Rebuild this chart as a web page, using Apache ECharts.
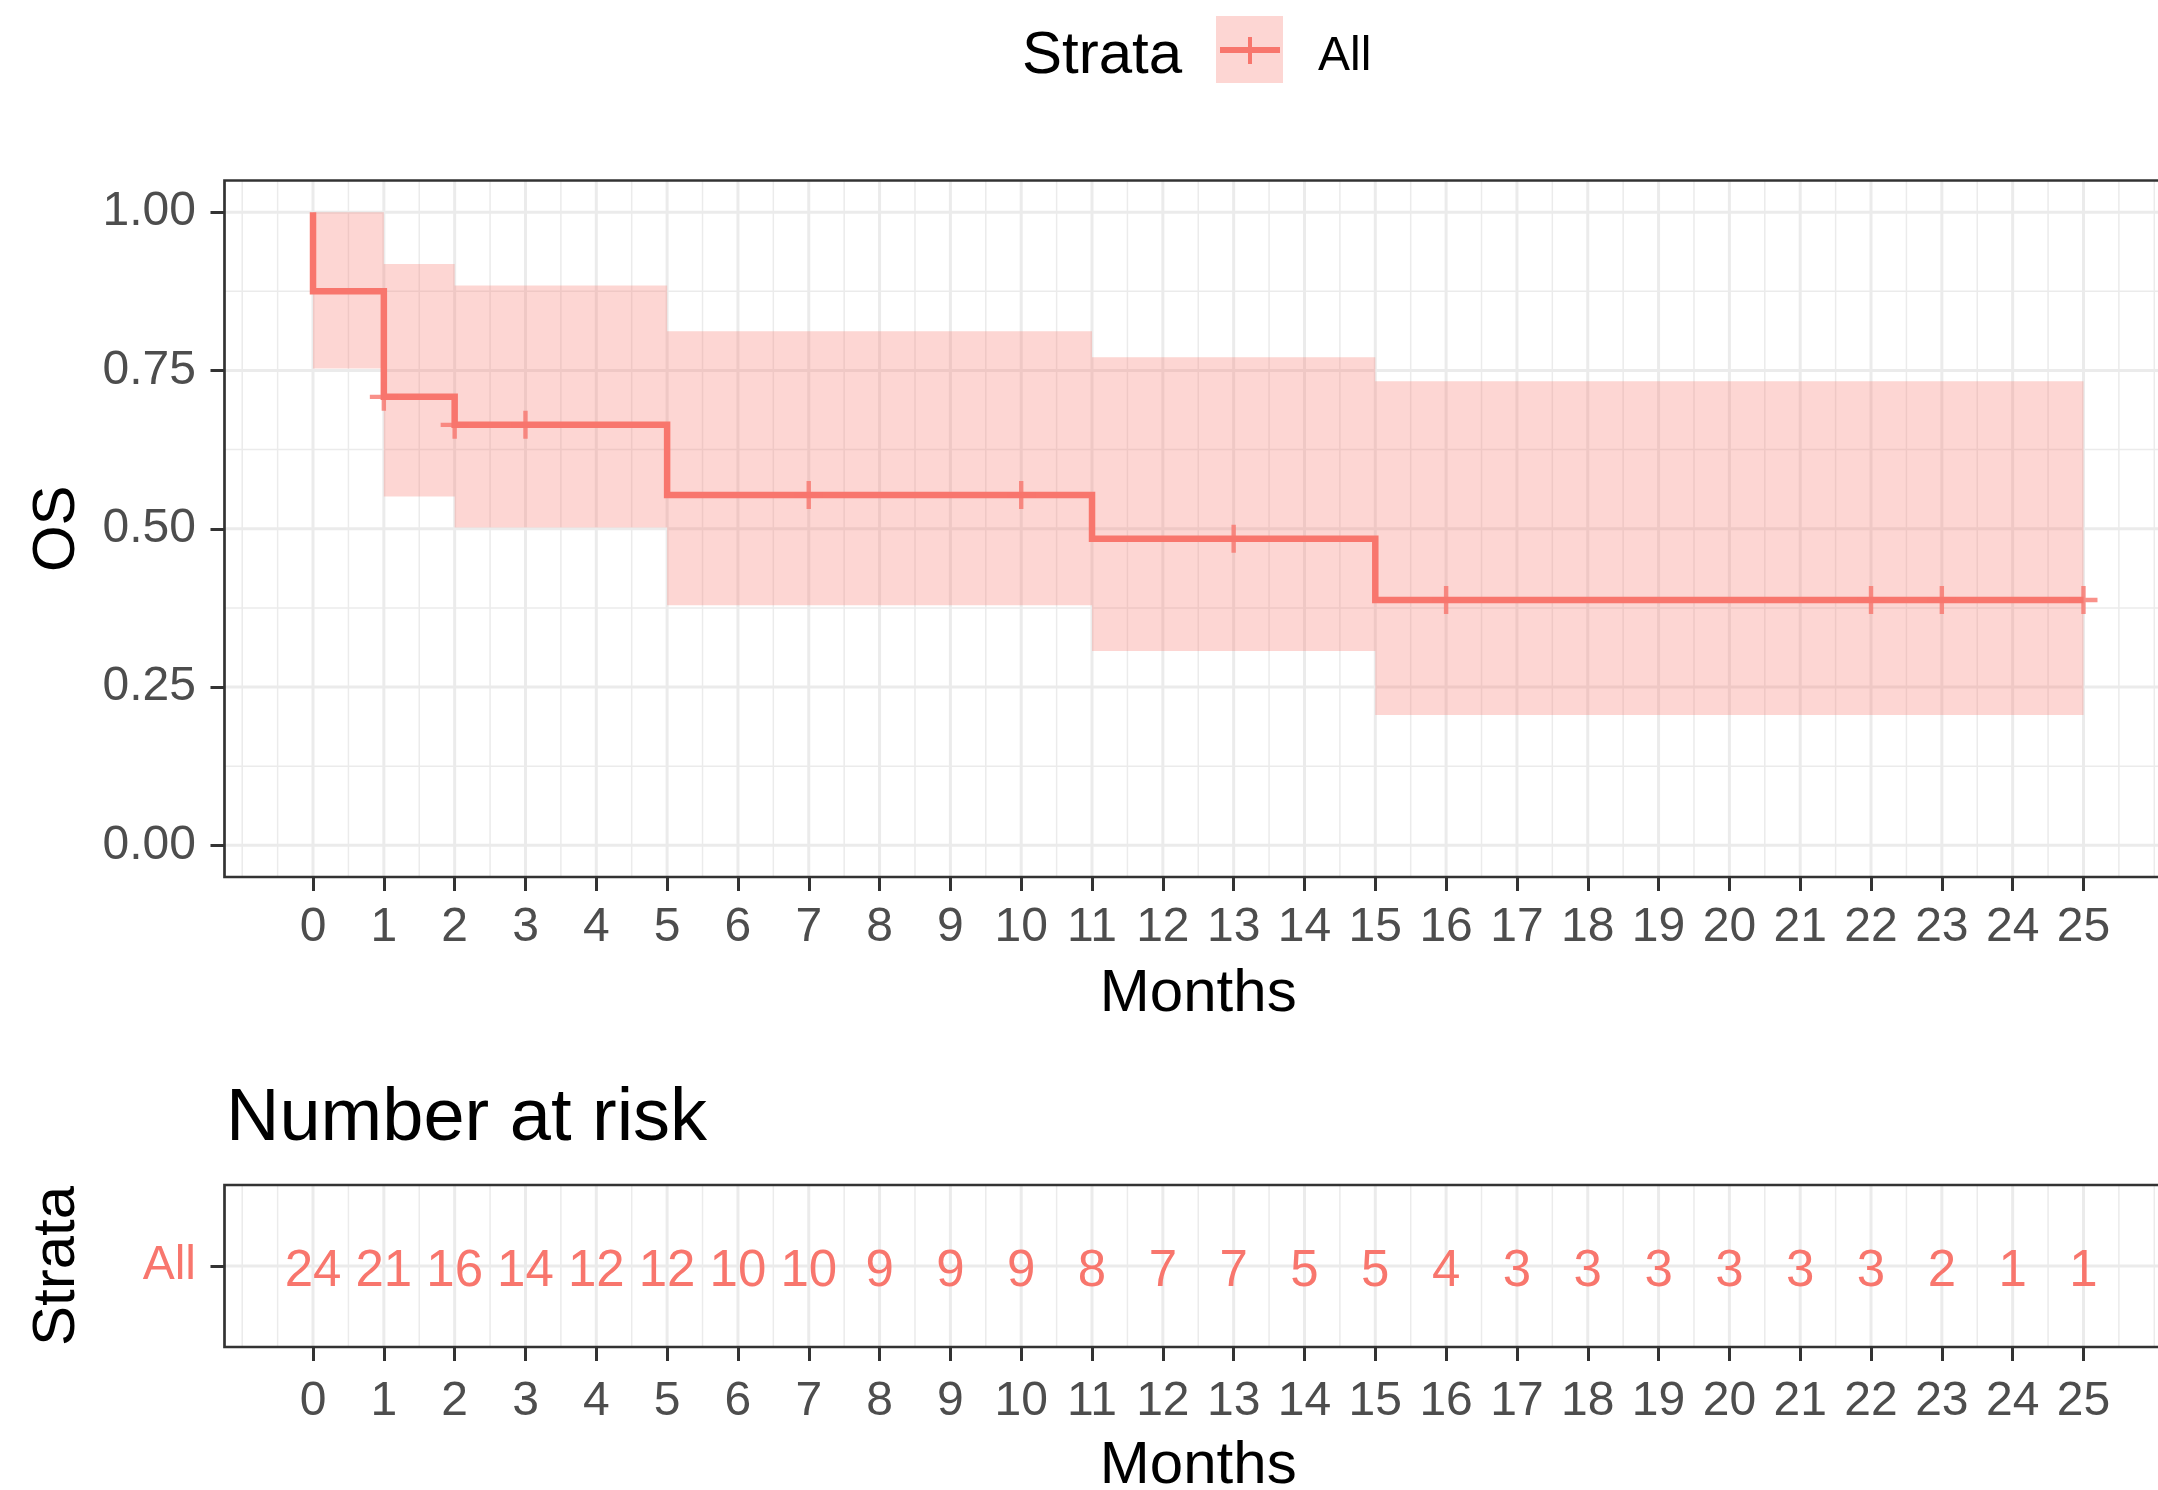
<!DOCTYPE html>
<html>
<head>
<meta charset="utf-8">
<script src="https://cdn.jsdelivr.net/npm/echarts@6/dist/echarts.min.js"></script>
<style>
  html, body { margin: 0; padding: 0; background: #ffffff; }
  #chart { width: 2158px; height: 1490px; }
</style>
</head>
<body>
<div id="chart"></div>
<script>
// ---- Kaplan-Meier overall survival, single stratum ----
const monthTicks = [0, 1, 2, 3, 4, 5, 6, 7, 8, 9, 10, 11, 12, 13, 14, 15, 16, 17, 18, 19, 20, 21, 22, 23, 24, 25];
const survTicks = [0, 0.25, 0.5, 0.75, 1];

// step curve: time of each drop and survival after it
const eventTimes = [0, 0, 1, 2, 5, 11, 15, 25];
const survProb   = [1, 0.875, 0.7083, 0.6641, 0.5534, 0.4842, 0.3874, 0.3874];

// 95% confidence band, piecewise constant from each time
const ciTimes = [0, 1, 2, 5, 11, 15, 25];
const ciLower = [0.753, 0.551, 0.502, 0.379, 0.307, 0.206, 0.206];
const ciUpper = [1.000, 0.918, 0.884, 0.812, 0.771, 0.733, 0.733];

// censored observations
const censorTimes = [1, 2, 3, 7, 10, 13, 16, 22, 23, 25];

// risk table
const strata = ['All'];
const riskTimes = monthTicks;
const nAtRisk = [24, 21, 16, 14, 12, 12, 10, 10, 9, 9, 9, 8, 7, 7, 5, 5, 4, 3, 3, 3, 3, 3, 3, 2, 1, 1];

// ---- styling ----
const STRATA_COL = '#F8766D';
const FONT = '"Liberation Sans", Arial, sans-serif';
const X_MIN = -1.25, X_MAX = 26.25;
const Y_MIN = -0.05, Y_MAX = 1.05;

// survival level in effect at time t (value of the last step at or before t)
function survAt(t) {
  let s = survProb[0];
  for (let i = 0; i < eventTimes.length; i++) if (eventTimes[i] <= t) s = survProb[i];
  return s;
}

// minor breaks halfway between majors, extended one step past each end
function minorBreaks(ticks, lo, hi) {
  const step = ticks[1] - ticks[0];
  const ext = [ticks[0] - step].concat(ticks, [ticks[ticks.length - 1] + step]);
  const out = [];
  for (let i = 0; i < ext.length; i++) {
    out.push(ext[i]);
    if (i < ext.length - 1) out.push((ext[i] + ext[i + 1]) / 2);
  }
  return out.filter(v => v >= lo && v <= hi);
}

const xMinor = minorBreaks(monthTicks, X_MIN, X_MAX);
const yMinor = minorBreaks(survTicks, Y_MIN, Y_MAX);

const GRID_COL = '#EBEBEB';
function vGridSeries(xi, yi) {
  const data = xMinor.map(v => [v, 0]).concat(monthTicks.map(v => [v, 1]));
  return {
    type: 'custom', xAxisIndex: xi, yAxisIndex: yi, silent: true, z: 1,
    data: data,
    renderItem: function (params, api) {
      const cs = params.coordSys;
      const x = api.coord([api.value(0), 0])[0];
      return {
        type: 'line',
        shape: { x1: x, y1: cs.y, x2: x, y2: cs.y + cs.height },
        style: { stroke: GRID_COL, lineWidth: api.value(1) ? 3 : 1.5 }
      };
    }
  };
}
function hGridSeries(xi, yi, minors, majors) {
  const data = minors.map(v => [0, v, 0]).concat(majors.map(v => [0, v, 1]));
  return {
    type: 'custom', xAxisIndex: xi, yAxisIndex: yi, silent: true, z: 1,
    data: data,
    renderItem: function (params, api) {
      const cs = params.coordSys;
      const y = api.coord([0, api.value(1)])[1];
      return {
        type: 'line',
        shape: { x1: cs.x, y1: y, x2: cs.x + cs.width, y2: y },
        style: { stroke: GRID_COL, lineWidth: api.value(2) ? 3 : 1.5 }
      };
    }
  };
}

// confidence band drawn as one step-shaped polygon (upper edge, then lower edge back)
function bandSeries() {
  return {
    type: 'custom', xAxisIndex: 0, yAxisIndex: 0, silent: true, z: 2,
    data: ciTimes.map((t, i) => [t, ciLower[i], ciUpper[i]]),
    renderItem: function (params, api) {
      if (params.dataIndex !== 0) return null;
      const n = ciTimes.length;
      const pts = [];
      for (let i = 0; i < n - 1; i++) {
        pts.push(api.coord([ciTimes[i], ciUpper[i]]));
        pts.push(api.coord([ciTimes[i + 1], ciUpper[i]]));
      }
      for (let i = n - 2; i >= 0; i--) {
        pts.push(api.coord([ciTimes[i + 1], ciLower[i]]));
        pts.push(api.coord([ciTimes[i], ciLower[i]]));
      }
      return {
        type: 'polygon',
        shape: { points: pts },
        style: { fill: 'rgba(248,118,109,0.3)', stroke: null }
      };
    }
  };
}

const plusPath = 'path://M-2.2,-14L2.2,-14L2.2,14L-2.2,14ZM-14,-2.2L14,-2.2L14,2.2L-14,2.2Z';

const gridLeft = 224.5, gridWidth = 1947.5;

const xAxisBase = (gi, nameGap, labelMargin) => ({
  type: 'value', gridIndex: gi, min: X_MIN, max: X_MAX,
  axisLine: { show: false, onZero: false },
  axisTick: { show: true, customValues: monthTicks, length: 14, lineStyle: { color: '#333333', width: 3 } },
  axisLabel: { customValues: monthTicks, fontSize: 48, color: '#4D4D4D', margin: labelMargin, fontFamily: FONT },
  splitLine: { show: false }, minorSplitLine: { show: false },
  name: 'Months', nameLocation: 'middle', nameGap: nameGap, nameMoveOverlap: false,
  nameTextStyle: { fontSize: 60, color: '#000000', fontFamily: FONT }
});

const option = {
  animation: false,
  backgroundColor: '#ffffff',
  textStyle: { fontFamily: FONT },
  title: {
    text: 'Number at risk', left: 226, top: 1083, padding: 0,
    textStyle: { fontSize: 74, fontWeight: 'normal', color: '#000000', fontFamily: FONT }
  },
  grid: [
    { left: gridLeft, top: 180.5, width: gridWidth, height: 696.5, show: true, z: 10,
      backgroundColor: 'transparent', borderColor: '#333333', borderWidth: 2.7, outerBoundsMode: 'none', containLabel: false },
    { left: gridLeft, top: 1185, width: gridWidth, height: 162, show: true, z: 10,
      backgroundColor: 'transparent', borderColor: '#333333', borderWidth: 2.7, outerBoundsMode: 'none', containLabel: false }
  ],
  xAxis: [xAxisBase(0, 87, 27), xAxisBase(1, 89, 31)],
  yAxis: [
    {
      type: 'value', gridIndex: 0, min: Y_MIN, max: Y_MAX,
      axisLine: { show: false, onZero: false },
      axisTick: { show: true, customValues: survTicks, length: 14, lineStyle: { color: '#333333', width: 3 } },
      axisLabel: { customValues: survTicks, fontSize: 48, color: '#4D4D4D', margin: 28.5, fontFamily: FONT,
                   formatter: v => Number(v).toFixed(2) },
      splitLine: { show: false },
      name: 'OS', nameLocation: 'middle', nameRotate: 90, nameGap: 137, nameMoveOverlap: false,
      nameTextStyle: { fontSize: 60, color: '#000000', fontFamily: FONT }
    },
    {
      type: 'category', gridIndex: 1, data: strata, boundaryGap: true,
      axisLine: { show: false, onZero: false },
      axisTick: { show: true, alignWithLabel: true, length: 14, lineStyle: { color: '#333333', width: 3 } },
      axisLabel: { fontSize: 48, color: STRATA_COL, margin: 28.5, fontFamily: FONT },
      splitLine: { show: false },
      name: 'Strata', nameLocation: 'middle', nameRotate: 90, nameGap: 137, nameMoveOverlap: false,
      nameTextStyle: { fontSize: 60, color: '#000000', fontFamily: FONT }
    }
  ],
  series: [
    // panel grid, survival plot
    vGridSeries(0, 0),
    hGridSeries(0, 0, yMinor, survTicks),
    // panel grid, risk table
    vGridSeries(1, 1),
    hGridSeries(1, 1, [], [0]),
    // confidence band
    bandSeries(),
    // survival curve
    {
      type: 'line', xAxisIndex: 0, yAxisIndex: 0, step: 'end', z: 3,
      symbol: 'none', silent: true,
      lineStyle: { color: STRATA_COL, width: 6.5, join: 'miter', cap: 'butt' },
      data: eventTimes.map((t, i) => [t, survProb[i]])
    },
    // censor marks
    {
      type: 'scatter', xAxisIndex: 0, yAxisIndex: 0, z: 4, silent: true,
      symbol: plusPath, symbolSize: 28,
      itemStyle: { color: STRATA_COL },
      data: censorTimes.map(t => [t, survAt(t)])
    },
    // numbers at risk
    {
      type: 'custom', xAxisIndex: 1, yAxisIndex: 1, z: 3, silent: true,
      data: riskTimes.map((t, i) => [t, 0, nAtRisk[i]]),
      renderItem: function (params, api) {
        const p = api.coord([api.value(0), api.value(1)]);
        return {
          type: 'text', x: p[0], y: p[1] + 6,
          style: { text: String(api.value(2)), fill: STRATA_COL, fontSize: 51, fontFamily: FONT,
                   align: 'center', verticalAlign: 'middle' }
        };
      }
    }
  ],
  graphic: [
    { type: 'text', left: 1022, top: 26,
      style: { text: 'Strata', fontSize: 60, fill: '#000000', fontFamily: FONT } },
    { type: 'rect', shape: { x: 1216, y: 16, width: 67, height: 67 },
      style: { fill: 'rgba(248,118,109,0.3)' } },
    { type: 'line', shape: { x1: 1220, y1: 50, x2: 1280, y2: 50 },
      style: { stroke: STRATA_COL, lineWidth: 6 } },
    { type: 'line', shape: { x1: 1250, y1: 37, x2: 1250, y2: 64 },
      style: { stroke: STRATA_COL, lineWidth: 4 } },
    { type: 'text', left: 1318, top: 33,
      style: { text: 'All', fontSize: 48, fill: '#000000', fontFamily: FONT } }
  ]
};

const chart = echarts.init(document.getElementById('chart'), null, { renderer: 'canvas' });
chart.setOption(option);
</script>
</body>
</html>
